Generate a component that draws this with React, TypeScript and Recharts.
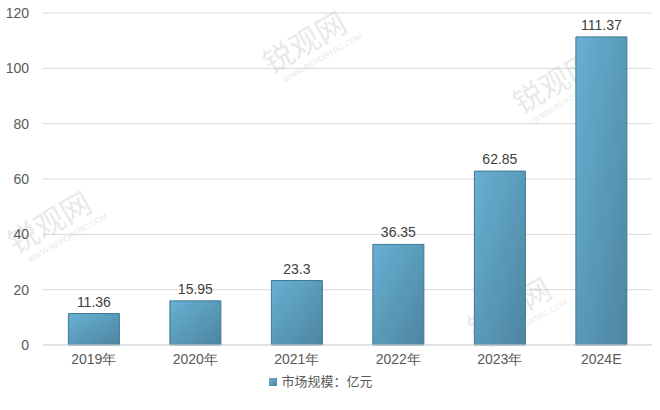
import React from 'react';
import {
  BarChart,
  Bar,
  XAxis,
  YAxis,
  CartesianGrid,
  Legend,
  LabelList,
} from 'recharts';

const years = ['2019年', '2020年', '2021年', '2022年', '2023年', '2024E'];
const marketSize = [11.36, 15.95, 23.3, 36.35, 62.85, 111.37];
const yTicks = [0, 20, 40, 60, 80, 100, 120];

const data = years.map((year, i) => ({ year, value: marketSize[i] }));

const font = '"Liberation Sans", Arial, sans-serif';

// faint site watermarks scattered over the plot
const marks = [
  { x: 310, y: 52 },
  { x: 560, y: 92 },
  { x: 55, y: 232 },
  { x: 515, y: 318 },
];

const Watermark = ({ x, y }: { x: number; y: number }) => (
  <g transform={`translate(${x},${y}) rotate(-30)`} opacity={0.3}>
    <text
      x={0}
      y={0}
      textAnchor="middle"
      fontSize={30}
      fill="#b8b8b8"
      fontFamily='"Noto Sans CJK SC", sans-serif'
    >
      锐观网
    </text>
    <text
      x={8}
      y={14}
      textAnchor="middle"
      fontSize={8}
      fill="#b8b8b8"
      fontFamily={font}
    >
      WWW.REPORTRC.COM
    </text>
  </g>
);

const App = () => (
  <div style={{ position: 'absolute', left: 0, top: 0, width: 660, height: 410, background: '#fff' }}>
    <BarChart
      width={660}
      height={410}
      data={data}
      margin={{ top: 13, right: 8, left: 0, bottom: 22 }}
      barCategoryGap="25%"
    >
      <defs>
        <linearGradient id="barFill" x1="0" y1="0" x2="1" y2="1">
          <stop offset="0%" stopColor="#68b0d3" />
          <stop offset="100%" stopColor="#4c85a0" />
        </linearGradient>
      </defs>
      <CartesianGrid vertical={false} stroke="#d9d9d9" />
      <XAxis
        dataKey="year"
        axisLine={{ stroke: '#d9d9d9' }}
        tickLine={false}
        tick={{ fill: '#595959', fontSize: 14, fontFamily: font }}
        tickMargin={3}
        height={24}
      />
      <YAxis
        width={43}
        domain={[0, 120]}
        ticks={yTicks}
        axisLine={false}
        tickLine={false}
        tick={{ fill: '#595959', fontSize: 14, fontFamily: font }}
        tickMargin={8}
      />
      <Legend
        verticalAlign="bottom"
        iconType="square"
        iconSize={8}
        wrapperStyle={{ fontFamily: '"Noto Sans CJK SC", sans-serif', fontSize: 13, bottom: 20 }}
        formatter={(v: string) => <span style={{ color: '#595959' }}>{v}</span>}
      />
      <Bar
        dataKey="value"
        name="市场规模：亿元"
        fill="url(#barFill)"
        stroke="#3f7893"
        strokeWidth={1}
        legendType="square"
        isAnimationActive={false}
      >
        <LabelList
          dataKey="value"
          position="top"
          offset={7}
          fill="#404040"
          fontSize={14}
          fontFamily={font}
        />
      </Bar>
      {marks.map((m, i) => (
        <Watermark key={i} x={m.x} y={m.y} />
      ))}
    </BarChart>
  </div>
);

export default App;
